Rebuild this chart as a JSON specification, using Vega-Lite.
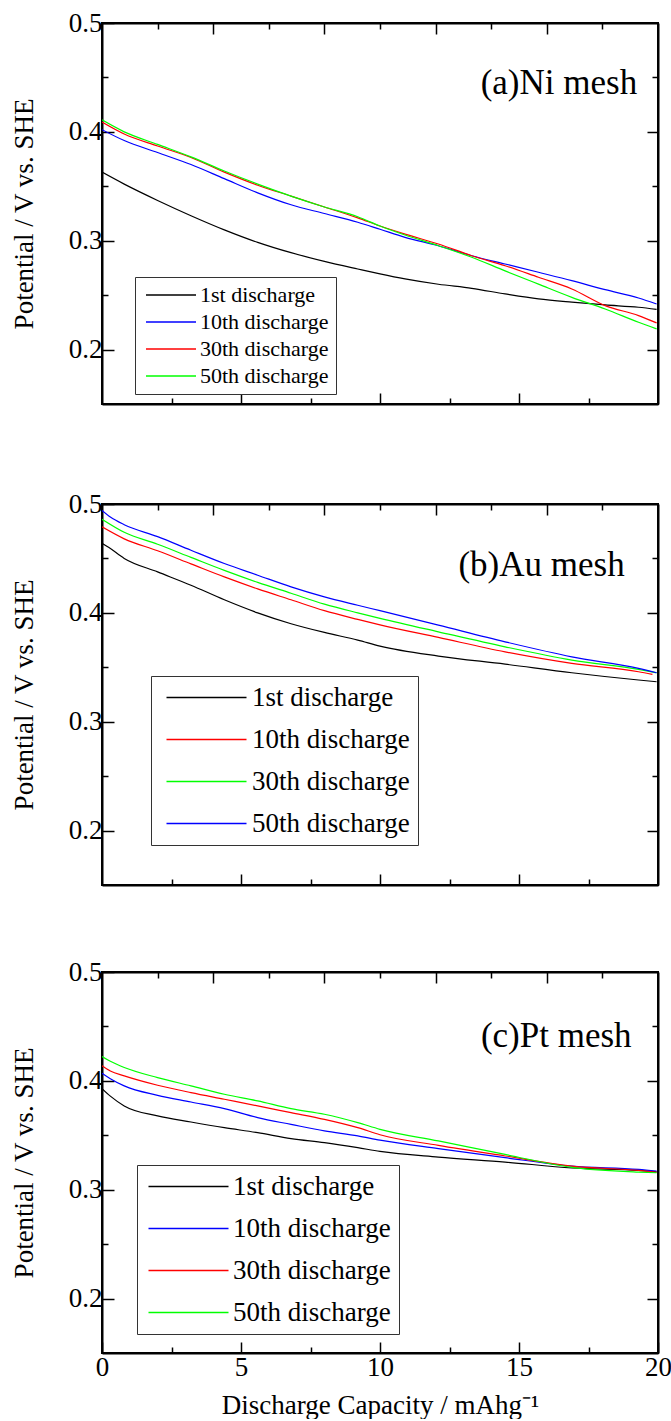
{
  "$schema": "https://vega.github.io/schema/vega-lite/v6.json",
  "padding": {"left": 9, "top": 8, "right": 8, "bottom": 0},
  "background": "white",
  "datasets": {
    "a": [
      {"s": "1st discharge", "x": 0, "y": 0.363}, {"s": "1st discharge", "x": 0.8, "y": 0.352}, {"s": "1st discharge", "x": 2.0, "y": 0.337}, {"s": "1st discharge", "x": 3.2, "y": 0.323}, {"s": "1st discharge", "x": 4.4, "y": 0.310}, {"s": "1st discharge", "x": 5.6, "y": 0.2985}, {"s": "1st discharge", "x": 6.8, "y": 0.289}, {"s": "1st discharge", "x": 8.0, "y": 0.281}, {"s": "1st discharge", "x": 9.2, "y": 0.274}, {"s": "1st discharge", "x": 10.0, "y": 0.2695}, {"s": "1st discharge", "x": 10.9, "y": 0.2649}, {"s": "1st discharge", "x": 12.1, "y": 0.260}, {"s": "1st discharge", "x": 13.3, "y": 0.2563}, {"s": "1st discharge", "x": 14.5, "y": 0.2511}, {"s": "1st discharge", "x": 15.7, "y": 0.2465}, {"s": "1st discharge", "x": 16.9, "y": 0.2435}, {"s": "1st discharge", "x": 18.1, "y": 0.241}, {"s": "1st discharge", "x": 19.3, "y": 0.2389}, {"s": "1st discharge", "x": 19.95, "y": 0.237},
      {"s": "10th discharge", "x": 0, "y": 0.402}, {"s": "10th discharge", "x": 0.8, "y": 0.392}, {"s": "10th discharge", "x": 2.0, "y": 0.381}, {"s": "10th discharge", "x": 3.2, "y": 0.370}, {"s": "10th discharge", "x": 4.4, "y": 0.357}, {"s": "10th discharge", "x": 5.6, "y": 0.344}, {"s": "10th discharge", "x": 6.8, "y": 0.333}, {"s": "10th discharge", "x": 8.0, "y": 0.325}, {"s": "10th discharge", "x": 9.2, "y": 0.317}, {"s": "10th discharge", "x": 10.0, "y": 0.3105}, {"s": "10th discharge", "x": 10.9, "y": 0.3031}, {"s": "10th discharge", "x": 12.1, "y": 0.2954}, {"s": "10th discharge", "x": 13.3, "y": 0.2862}, {"s": "10th discharge", "x": 14.5, "y": 0.2786}, {"s": "10th discharge", "x": 15.7, "y": 0.271}, {"s": "10th discharge", "x": 16.9, "y": 0.2633}, {"s": "10th discharge", "x": 18.1, "y": 0.255}, {"s": "10th discharge", "x": 19.3, "y": 0.2474}, {"s": "10th discharge", "x": 19.95, "y": 0.2419},
      {"s": "30th discharge", "x": 0, "y": 0.409}, {"s": "30th discharge", "x": 0.8, "y": 0.398}, {"s": "30th discharge", "x": 2.0, "y": 0.387}, {"s": "30th discharge", "x": 3.2, "y": 0.3765}, {"s": "30th discharge", "x": 4.4, "y": 0.363}, {"s": "30th discharge", "x": 5.6, "y": 0.351}, {"s": "30th discharge", "x": 6.8, "y": 0.341}, {"s": "30th discharge", "x": 8.0, "y": 0.331}, {"s": "30th discharge", "x": 9.2, "y": 0.321}, {"s": "30th discharge", "x": 10.0, "y": 0.3135}, {"s": "30th discharge", "x": 10.9, "y": 0.3061}, {"s": "30th discharge", "x": 12.1, "y": 0.297}, {"s": "30th discharge", "x": 13.3, "y": 0.2862}, {"s": "30th discharge", "x": 14.5, "y": 0.277}, {"s": "30th discharge", "x": 15.7, "y": 0.2664}, {"s": "30th discharge", "x": 16.9, "y": 0.2557}, {"s": "30th discharge", "x": 18.1, "y": 0.2404}, {"s": "30th discharge", "x": 19.3, "y": 0.2312}, {"s": "30th discharge", "x": 19.95, "y": 0.2245},
      {"s": "50th discharge", "x": 0, "y": 0.411}, {"s": "50th discharge", "x": 0.8, "y": 0.400}, {"s": "50th discharge", "x": 2.0, "y": 0.3885}, {"s": "50th discharge", "x": 3.2, "y": 0.377}, {"s": "50th discharge", "x": 4.4, "y": 0.364}, {"s": "50th discharge", "x": 5.6, "y": 0.352}, {"s": "50th discharge", "x": 6.8, "y": 0.341}, {"s": "50th discharge", "x": 8.0, "y": 0.331}, {"s": "50th discharge", "x": 9.2, "y": 0.322}, {"s": "50th discharge", "x": 10.0, "y": 0.3135}, {"s": "50th discharge", "x": 10.9, "y": 0.3052}, {"s": "50th discharge", "x": 12.1, "y": 0.2954}, {"s": "50th discharge", "x": 13.3, "y": 0.2848}, {"s": "50th discharge", "x": 14.5, "y": 0.2723}, {"s": "50th discharge", "x": 15.7, "y": 0.2601}, {"s": "50th discharge", "x": 16.9, "y": 0.248}, {"s": "50th discharge", "x": 18.1, "y": 0.2373}, {"s": "50th discharge", "x": 19.3, "y": 0.2251}, {"s": "50th discharge", "x": 19.95, "y": 0.219}
    ],
    "b": [
      {"s": "1st discharge", "x": 0, "y": 0.464}, {"s": "1st discharge", "x": 0.25, "y": 0.460}, {"s": "1st discharge", "x": 0.8, "y": 0.450}, {"s": "1st discharge", "x": 2.0, "y": 0.4376}, {"s": "1st discharge", "x": 3.2, "y": 0.4254}, {"s": "1st discharge", "x": 4.4, "y": 0.412}, {"s": "1st discharge", "x": 5.6, "y": 0.400}, {"s": "1st discharge", "x": 6.8, "y": 0.390}, {"s": "1st discharge", "x": 8.0, "y": 0.382}, {"s": "1st discharge", "x": 9.2, "y": 0.375}, {"s": "1st discharge", "x": 10.0, "y": 0.3695}, {"s": "1st discharge", "x": 12.1, "y": 0.3603}, {"s": "1st discharge", "x": 14.5, "y": 0.3529}, {"s": "1st discharge", "x": 16.9, "y": 0.345}, {"s": "1st discharge", "x": 19.3, "y": 0.3383}, {"s": "1st discharge", "x": 19.95, "y": 0.3367},
      {"s": "10th discharge", "x": 0, "y": 0.479}, {"s": "10th discharge", "x": 0.8, "y": 0.468}, {"s": "10th discharge", "x": 2.0, "y": 0.457}, {"s": "10th discharge", "x": 3.2, "y": 0.445}, {"s": "10th discharge", "x": 4.4, "y": 0.433}, {"s": "10th discharge", "x": 5.6, "y": 0.422}, {"s": "10th discharge", "x": 6.8, "y": 0.412}, {"s": "10th discharge", "x": 8.0, "y": 0.402}, {"s": "10th discharge", "x": 9.2, "y": 0.394}, {"s": "10th discharge", "x": 10.0, "y": 0.389}, {"s": "10th discharge", "x": 12.1, "y": 0.3774}, {"s": "10th discharge", "x": 14.5, "y": 0.3642}, {"s": "10th discharge", "x": 16.9, "y": 0.3536}, {"s": "10th discharge", "x": 19.3, "y": 0.3459}, {"s": "10th discharge", "x": 19.8, "y": 0.3435},
      {"s": "30th discharge", "x": 0, "y": 0.486}, {"s": "30th discharge", "x": 0.8, "y": 0.474}, {"s": "30th discharge", "x": 2.0, "y": 0.463}, {"s": "30th discharge", "x": 3.2, "y": 0.451}, {"s": "30th discharge", "x": 4.4, "y": 0.439}, {"s": "30th discharge", "x": 5.6, "y": 0.428}, {"s": "30th discharge", "x": 6.8, "y": 0.418}, {"s": "30th discharge", "x": 8.0, "y": 0.408}, {"s": "30th discharge", "x": 9.2, "y": 0.400}, {"s": "30th discharge", "x": 10.0, "y": 0.395}, {"s": "30th discharge", "x": 12.1, "y": 0.3826}, {"s": "30th discharge", "x": 14.5, "y": 0.3688}, {"s": "30th discharge", "x": 16.9, "y": 0.3566}, {"s": "30th discharge", "x": 19.3, "y": 0.348}, {"s": "30th discharge", "x": 19.95, "y": 0.345},
      {"s": "50th discharge", "x": 0, "y": 0.494}, {"s": "50th discharge", "x": 0.3, "y": 0.488}, {"s": "50th discharge", "x": 0.8, "y": 0.481}, {"s": "50th discharge", "x": 2.0, "y": 0.470}, {"s": "50th discharge", "x": 3.2, "y": 0.4575}, {"s": "50th discharge", "x": 4.4, "y": 0.4453}, {"s": "50th discharge", "x": 5.6, "y": 0.4346}, {"s": "50th discharge", "x": 6.8, "y": 0.4239}, {"s": "50th discharge", "x": 8.0, "y": 0.4147}, {"s": "50th discharge", "x": 9.2, "y": 0.407}, {"s": "50th discharge", "x": 10.0, "y": 0.402}, {"s": "50th discharge", "x": 12.1, "y": 0.3887}, {"s": "50th discharge", "x": 14.5, "y": 0.3734}, {"s": "50th discharge", "x": 16.9, "y": 0.3596}, {"s": "50th discharge", "x": 19.3, "y": 0.349}, {"s": "50th discharge", "x": 19.95, "y": 0.345}
    ],
    "c": [
      {"s": "1st discharge", "x": 0, "y": 0.3929}, {"s": "1st discharge", "x": 0.3, "y": 0.386}, {"s": "1st discharge", "x": 0.8, "y": 0.377}, {"s": "1st discharge", "x": 2.0, "y": 0.3678}, {"s": "1st discharge", "x": 3.2, "y": 0.3622}, {"s": "1st discharge", "x": 4.4, "y": 0.357}, {"s": "1st discharge", "x": 5.6, "y": 0.3524}, {"s": "1st discharge", "x": 6.8, "y": 0.3469}, {"s": "1st discharge", "x": 8.0, "y": 0.3432}, {"s": "1st discharge", "x": 9.2, "y": 0.3386}, {"s": "1st discharge", "x": 10.0, "y": 0.3352}, {"s": "1st discharge", "x": 12.1, "y": 0.330}, {"s": "1st discharge", "x": 14.5, "y": 0.3254}, {"s": "1st discharge", "x": 16.9, "y": 0.320}, {"s": "1st discharge", "x": 19.3, "y": 0.3177}, {"s": "1st discharge", "x": 19.95, "y": 0.3165},
      {"s": "10th discharge", "x": 0, "y": 0.407}, {"s": "10th discharge", "x": 0.3, "y": 0.402}, {"s": "10th discharge", "x": 0.8, "y": 0.3954}, {"s": "10th discharge", "x": 2.0, "y": 0.3867}, {"s": "10th discharge", "x": 3.2, "y": 0.3806}, {"s": "10th discharge", "x": 4.4, "y": 0.3745}, {"s": "10th discharge", "x": 5.6, "y": 0.3662}, {"s": "10th discharge", "x": 6.8, "y": 0.360}, {"s": "10th discharge", "x": 8.0, "y": 0.354}, {"s": "10th discharge", "x": 9.2, "y": 0.3494}, {"s": "10th discharge", "x": 10.0, "y": 0.3455}, {"s": "10th discharge", "x": 12.1, "y": 0.3377}, {"s": "10th discharge", "x": 14.5, "y": 0.3294}, {"s": "10th discharge", "x": 16.9, "y": 0.3217}, {"s": "10th discharge", "x": 19.3, "y": 0.3186}, {"s": "10th discharge", "x": 19.95, "y": 0.317},
      {"s": "30th discharge", "x": 0, "y": 0.4138}, {"s": "30th discharge", "x": 0.3, "y": 0.409}, {"s": "30th discharge", "x": 0.8, "y": 0.4046}, {"s": "30th discharge", "x": 2.0, "y": 0.396}, {"s": "30th discharge", "x": 3.2, "y": 0.3892}, {"s": "30th discharge", "x": 4.4, "y": 0.3831}, {"s": "30th discharge", "x": 5.6, "y": 0.377}, {"s": "30th discharge", "x": 6.8, "y": 0.3708}, {"s": "30th discharge", "x": 8.0, "y": 0.3646}, {"s": "30th discharge", "x": 9.2, "y": 0.357}, {"s": "30th discharge", "x": 10.0, "y": 0.3505}, {"s": "30th discharge", "x": 12.1, "y": 0.3407}, {"s": "30th discharge", "x": 14.5, "y": 0.331}, {"s": "30th discharge", "x": 16.9, "y": 0.3217}, {"s": "30th discharge", "x": 19.3, "y": 0.3177}, {"s": "30th discharge", "x": 19.95, "y": 0.316},
      {"s": "50th discharge", "x": 0, "y": 0.4224}, {"s": "50th discharge", "x": 0.3, "y": 0.418}, {"s": "50th discharge", "x": 0.8, "y": 0.4123}, {"s": "50th discharge", "x": 2.0, "y": 0.403}, {"s": "50th discharge", "x": 3.2, "y": 0.3954}, {"s": "50th discharge", "x": 4.4, "y": 0.3877}, {"s": "50th discharge", "x": 5.6, "y": 0.3816}, {"s": "50th discharge", "x": 6.8, "y": 0.3745}, {"s": "50th discharge", "x": 8.0, "y": 0.3693}, {"s": "50th discharge", "x": 9.2, "y": 0.3616}, {"s": "50th discharge", "x": 10.0, "y": 0.3555}, {"s": "50th discharge", "x": 12.1, "y": 0.3448}, {"s": "50th discharge", "x": 14.5, "y": 0.3324}, {"s": "50th discharge", "x": 16.9, "y": 0.3205}, {"s": "50th discharge", "x": 19.3, "y": 0.3162}, {"s": "50th discharge", "x": 19.95, "y": 0.3156}
    ],
    "la": [{"label": "(a)Ni mesh", "x": 19.25, "y": 0.4446}],
    "lb": [{"label": "(b)Au mesh", "x": 18.8, "y": 0.4438}],
    "lc": [{"label": "(c)Pt mesh", "x": 19.05, "y": 0.4408}]
  },
  "spacing": 83,
  "vconcat": [
    {
      "width": 556, "height": 381,
      "layer": [
        {
          "data": {"name": "a"},
          "mark": {"type": "line", "strokeWidth": 1.2, "interpolate": "monotone", "clip": true},
          "encoding": {
            "x": {"field": "x", "type": "quantitative", "scale": {"domain": [0, 20], "nice": false, "zero": false},
                  "axis": {"orient": "bottom", "values": [2.5, 5, 7.5, 10, 12.5, 15, 17.5], "labels": false, "title": null, "tickSize": {"condition": {"test": "datum.value % 5 === 0", "value": -11}, "value": -6}}},
            "y": {"field": "y", "type": "quantitative", "scale": {"domain": [0.15, 0.5], "nice": false, "zero": false},
                  "axis": {"orient": "left", "values": [0.2, 0.25, 0.3, 0.35, 0.4, 0.45, 0.5], "labelExpr": "abs(datum.value*10 - round(datum.value*10)) < 0.001 ? format(datum.value, '.1f') : ''", "title": "Potential / V vs. SHE", "tickSize": {"condition": {"test": "abs(datum.value*10 - round(datum.value*10)) < 0.001", "value": -12}, "value": -6}, "labelPadding": 12, "titlePadding": 30}},
            "color": {"field": "s", "type": "nominal",
                      "scale": {"domain": ["1st discharge", "10th discharge", "30th discharge", "50th discharge"], "range": ["#000000", "#0000ff", "#ff0000", "#00ff00"]},
                      "legend": {"orient": "none", "legendX": 33, "legendY": 254, "title": null, "symbolType": "M-1.75,0H10.75", "symbolSize": 64, "symbolStrokeWidth": 1.5, "labelFontSize": 22, "padding": 7, "rowPadding": 5, "labelOffset": 36, "strokeColor": "#333333", "fillColor": "white", "labelLimit": 400}}
          }
        },
        {
          "data": {"name": "la"},
          "mark": {"type": "text", "align": "right", "baseline": "middle", "font": "Liberation Serif", "fontSize": 35, "color": "black"},
          "encoding": {
            "x": {"field": "x", "type": "quantitative", "axis": {"orient": "top", "values": [2, 4, 6, 8, 10, 12, 14, 16, 18], "labels": false, "title": null, "tickSize": {"condition": {"test": "datum.value % 4 === 0", "value": -11}, "value": -6}}},
            "y": {"field": "y", "type": "quantitative", "axis": {"orient": "right", "values": [0.2, 0.25, 0.3, 0.35, 0.4, 0.45], "labels": false, "title": null, "tickSize": {"condition": {"test": "abs(datum.value*10 - round(datum.value*10)) < 0.001", "value": -11}, "value": -6}}},
            "text": {"field": "label"}
          }
        }
      ],
      "resolve": {"axis": {"x": "independent", "y": "independent"}}
    },
    {
      "spacing": 70,
      "vconcat": [
        {
          "width": 556, "height": 381,
          "layer": [
            {
              "data": {"name": "b"},
              "mark": {"type": "line", "strokeWidth": 1.2, "interpolate": "monotone", "clip": true},
              "encoding": {
                "x": {"field": "x", "type": "quantitative", "scale": {"domain": [0, 20], "nice": false, "zero": false},
                      "axis": {"orient": "bottom", "values": [2.5, 5, 7.5, 10, 12.5, 15, 17.5], "labels": false, "title": null, "tickSize": {"condition": {"test": "datum.value % 5 === 0", "value": -11}, "value": -6}}},
                "y": {"field": "y", "type": "quantitative", "scale": {"domain": [0.15, 0.5], "nice": false, "zero": false},
                      "axis": {"orient": "left", "values": [0.2, 0.25, 0.3, 0.35, 0.4, 0.45, 0.5], "labelExpr": "abs(datum.value*10 - round(datum.value*10)) < 0.001 ? format(datum.value, '.1f') : ''", "title": "Potential / V vs. SHE", "tickSize": {"condition": {"test": "abs(datum.value*10 - round(datum.value*10)) < 0.001", "value": -12}, "value": -6}, "labelPadding": 12, "titlePadding": 30}},
                "color": {"field": "s", "type": "nominal",
                          "scale": {"domain": ["1st discharge", "10th discharge", "30th discharge", "50th discharge"], "range": ["#000000", "#ff0000", "#00ff00", "#0000ff"]},
                          "legend": {"orient": "none", "legendX": 49, "legendY": 172, "title": null, "symbolType": "M-1.5,0H18.5", "symbolSize": 64, "symbolStrokeWidth": 1.5, "labelFontSize": 27, "padding": 8, "rowPadding": 14, "labelOffset": 66, "strokeColor": "#333333", "fillColor": "white", "labelLimit": 400}}
              }
            },
            {
              "data": {"name": "lb"},
              "mark": {"type": "text", "align": "right", "baseline": "middle", "font": "Liberation Serif", "fontSize": 35, "color": "black"},
              "encoding": {
                "x": {"field": "x", "type": "quantitative", "axis": {"orient": "top", "values": [2, 4, 6, 8, 10, 12, 14, 16, 18], "labels": false, "title": null, "tickSize": {"condition": {"test": "datum.value % 4 === 0", "value": -11}, "value": -6}}},
                "y": {"field": "y", "type": "quantitative", "axis": {"orient": "right", "values": [0.2, 0.25, 0.3, 0.35, 0.4, 0.45], "labels": false, "title": null, "tickSize": {"condition": {"test": "abs(datum.value*10 - round(datum.value*10)) < 0.001", "value": -11}, "value": -6}}},
                "text": {"field": "label"}
              }
            }
          ],
          "resolve": {"axis": {"x": "independent", "y": "independent"}}
        },
        {
          "width": 556, "height": 381,
          "layer": [
            {
              "data": {"name": "c"},
              "mark": {"type": "line", "strokeWidth": 1.2, "interpolate": "monotone", "clip": true},
              "encoding": {
                "x": {"field": "x", "type": "quantitative", "scale": {"domain": [0, 20], "nice": false, "zero": false},
                      "axis": {"orient": "bottom", "values": [0, 2.5, 5, 7.5, 10, 12.5, 15, 17.5, 20], "labelExpr": "datum.value % 5 === 0 ? format(datum.value, 'd') : ''", "title": "Discharge Capacity / mAhg⁻¹", "tickSize": {"condition": {"test": "datum.value % 5 === 0", "value": -11}, "value": -6}, "labelPadding": 12, "titlePadding": 7}},
                "y": {"field": "y", "type": "quantitative", "scale": {"domain": [0.15, 0.5], "nice": false, "zero": false},
                      "axis": {"orient": "left", "values": [0.2, 0.25, 0.3, 0.35, 0.4, 0.45, 0.5], "labelExpr": "abs(datum.value*10 - round(datum.value*10)) < 0.001 ? format(datum.value, '.1f') : ''", "title": "Potential / V vs. SHE", "tickSize": {"condition": {"test": "abs(datum.value*10 - round(datum.value*10)) < 0.001", "value": -12}, "value": -6}, "labelPadding": 12, "titlePadding": 30}},
                "color": {"field": "s", "type": "nominal",
                          "scale": {"domain": ["1st discharge", "10th discharge", "30th discharge", "50th discharge"], "range": ["#000000", "#0000ff", "#ff0000", "#00ff00"]},
                          "legend": {"orient": "none", "legendX": 35, "legendY": 193, "title": null, "symbolType": "M-2.5,0H17.5", "symbolSize": 64, "symbolStrokeWidth": 1.5, "labelFontSize": 27, "padding": 8, "rowPadding": 14, "labelOffset": 61, "strokeColor": "#333333", "fillColor": "white", "labelLimit": 400}}
              }
            },
            {
              "data": {"name": "lc"},
              "mark": {"type": "text", "align": "right", "baseline": "middle", "font": "Liberation Serif", "fontSize": 35, "color": "black"},
              "encoding": {
                "x": {"field": "x", "type": "quantitative", "axis": {"orient": "top", "values": [2, 4, 6, 8, 10, 12, 14, 16, 18], "labels": false, "title": null, "tickSize": {"condition": {"test": "datum.value % 4 === 0", "value": -11}, "value": -6}}},
                "y": {"field": "y", "type": "quantitative", "axis": {"orient": "right", "values": [0.2, 0.25, 0.3, 0.35, 0.4, 0.45], "labels": false, "title": null, "tickSize": {"condition": {"test": "abs(datum.value*10 - round(datum.value*10)) < 0.001", "value": -11}, "value": -6}}},
                "text": {"field": "label"}
              }
            }
          ],
          "resolve": {"axis": {"x": "independent", "y": "independent"}}
        }
      ],
      "resolve": {"scale": {"color": "independent"}, "legend": {"color": "independent"}}
    }
  ],
  "resolve": {"scale": {"color": "independent"}, "legend": {"color": "independent"}},
  "config": {
    "font": "Liberation Serif",
    "view": {"stroke": "black", "strokeWidth": 2},
    "axis": {"grid": false, "domainColor": "black", "domainWidth": 2, "tickColor": "black", "tickWidth": 1.5,
             "labelFont": "Liberation Serif", "labelFontSize": 27, "labelColor": "black", "labelFlush": false, "labelOverlap": false, "labelBound": false,
             "titleFont": "Liberation Serif", "titleFontSize": 27, "titleFontWeight": "normal", "titleColor": "black"},
    "legend": {"labelFont": "Liberation Serif", "labelColor": "black"}
  }
}
